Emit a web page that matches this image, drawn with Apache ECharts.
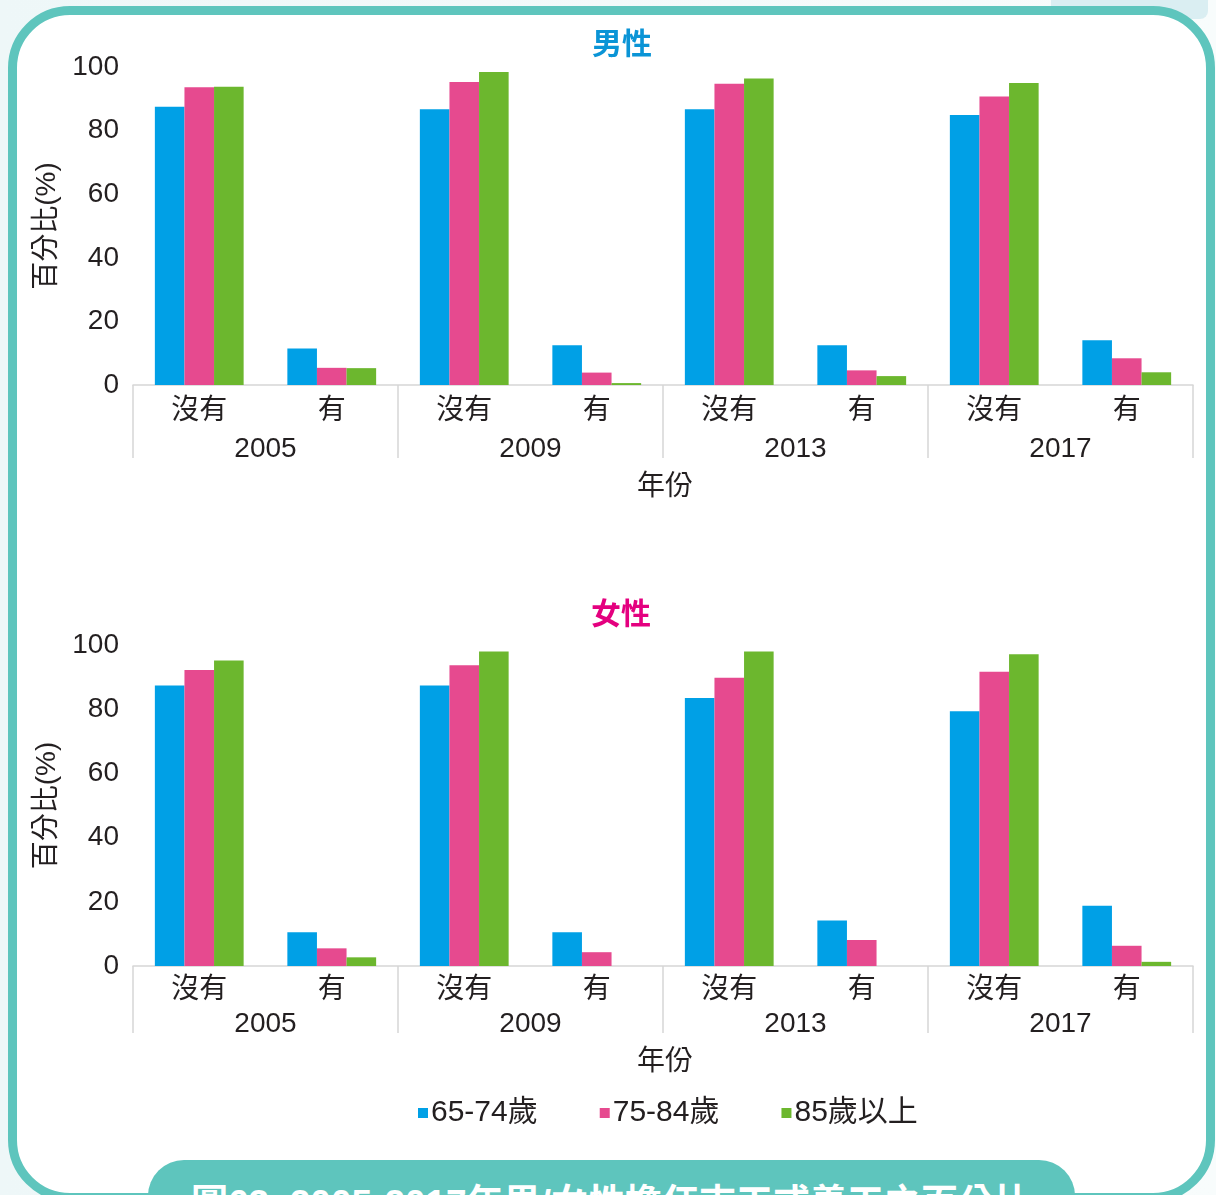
<!DOCTYPE html>
<html>
<head>
<meta charset="utf-8">
<script src="https://cdn.jsdelivr.net/npm/echarts@6/dist/echarts.min.js"></script>
<style>
  html, body { margin: 0; padding: 0; }
  body {
    width: 1216px; height: 1195px; overflow: hidden; position: relative;
    background: linear-gradient(to right, #eef7f8, #f8fcfc);
    font-family: "Liberation Sans", "Noto Sans CJK TC", sans-serif;
  }
  .tab { position: absolute; left: 1051px; top: 0; width: 157px; height: 19px; background: #daeef2; border-bottom-right-radius: 8px; }
  .panel {
    position: absolute; left: 8px; top: 6px; width: 1207px; height: 1196px;
    box-sizing: border-box; border: 9px solid #5ec5bd; border-radius: 62px; background: #fff;
  }
  .pill {
    position: absolute; left: 148px; top: 1160px; width: 927px; height: 70px;
    background: #5ec5bd; border-radius: 36px 36px 0 0;
    color: #fff; font-weight: bold; font-size: 37px; text-align: center;
    box-sizing: border-box; padding-top: 13px; white-space: nowrap;
  }
  #chart { position: absolute; left: 0; top: 0; width: 1216px; height: 1195px; }
</style>
</head>
<body>
<div class="tab"></div>
<div class="panel"></div>
<div class="pill">圖63. 2005-2017年男/女性擔任志工或義工之百分比</div>
<div id="chart"></div>
<script>
// 年份與回答
const years = ["2005", "2009", "2013", "2017"];
const answers = ["沒有", "有"];
const subLabels = years.flatMap(() => answers);
const yTicks = [0, 20, 40, 60, 80, 100];

// 男性
const male65 = [87.5, 11.5, 86.7, 12.5, 86.7, 12.5, 84.9, 14.1];
const male75 = [93.6, 5.4, 95.3, 3.9, 94.7, 4.6, 90.7, 8.4];
const male85 = [93.8, 5.3, 98.4, 0.6, 96.4, 2.8, 95.0, 4.0];
// 女性
const female65 = [87.4, 10.5, 87.4, 10.5, 83.5, 14.2, 79.4, 18.8];
const female75 = [92.2, 5.5, 93.7, 4.3, 89.8, 8.1, 91.7, 6.3];
const female85 = [95.2, 2.7, 98.0, 0, 98.0, 0, 97.1, 1.3];

const seriesNames = ["65-74歲", "75-84歲", "85歲以上"];
const colors = ["#00a0e6", "#e64a8f", "#6cb72e"];

const FONT = "Liberation Sans, Noto Sans CJK TC, sans-serif";
const TXT = "#231f20";
const GRAY = "#d6d6d6";

const chart = echarts.init(document.getElementById("chart"));

const grids = [
  { left: 133, right: 23, top: 67, height: 318 },
  { left: 133, right: 23, top: 645, height: 321 },
];

// 每個 grid 兩條 x 軸：內層(沒有/有) + 外層(年份)
const xAxes = [];
const layout = [
  { inner: 12, outer: 50, tick: 73 },
  { inner: 10, outer: 44, tick: 67 },
];
layout.forEach((l, g) => {
  xAxes.push({
    type: "category", gridIndex: g, data: subLabels,
    axisTick: { show: false },
    axisLine: { lineStyle: { color: GRAY, width: 1.5 } },
    axisLabel: { color: TXT, fontSize: 28, fontFamily: FONT, margin: l.inner, interval: 0 },
  });
  xAxes.push({
    type: "category", gridIndex: g, data: years, position: "bottom",
    axisLine: { show: false },
    axisTick: { show: true, length: l.tick, interval: 0, lineStyle: { color: GRAY, width: 1.5 } },
    axisLabel: { color: TXT, fontSize: 28, fontFamily: FONT, margin: l.outer, interval: 0 },
  });
});

const yAxes = [0, 1].map((g) => ({
  type: "value", gridIndex: g, min: yTicks[0], max: yTicks[yTicks.length - 1], interval: 20,
  name: "百分比(%)", nameLocation: "middle", nameGap: 72,
  nameTextStyle: { color: TXT, fontSize: 28, fontFamily: FONT },
  axisLine: { show: false }, axisTick: { show: false },
  splitLine: { show: false },
  axisLabel: { color: TXT, fontSize: 28, fontFamily: FONT, margin: 14 },
}));

const makeSeries = (data, i, g) => ({
  type: "bar", name: seriesNames[i], data: data,
  xAxisIndex: g * 2, yAxisIndex: g,
  barGap: "0%", barCategoryGap: "33%",
  itemStyle: { color: colors[i] },
});

const series = [
  makeSeries(male65, 0, 0), makeSeries(male75, 1, 0), makeSeries(male85, 2, 0),
  makeSeries(female65, 0, 1), makeSeries(female75, 1, 1), makeSeries(female85, 2, 1),
];

const textEl = (text, x, y, color, size, weight) => ({
  type: "text", left: x, top: y,
  style: { text: text, fill: color, fontSize: size, fontWeight: weight, fontFamily: FONT },
});

chart.setOption({
  animation: false,
  textStyle: { fontFamily: FONT },
  grid: grids,
  xAxis: xAxes,
  yAxis: yAxes,
  legend: {
    data: seriesNames, left: 413, top: 1093,
    icon: "rect", itemWidth: 10, itemHeight: 10, itemGap: 62,
    textStyle: { color: TXT, fontSize: 30, fontFamily: FONT, padding: [0, 0, 0, -2] },
  },
  graphic: [
    textEl("男性", 592, 31, "#0a94d6", 30, "bold"),
    textEl("女性", 591, 601, "#e4007f", 30, "bold"),
    textEl("年份", 637, 473, TXT, 28, "normal"),
    textEl("年份", 637, 1048, TXT, 28, "normal"),
  ],
  series: series,
});
</script>
</body>
</html>
